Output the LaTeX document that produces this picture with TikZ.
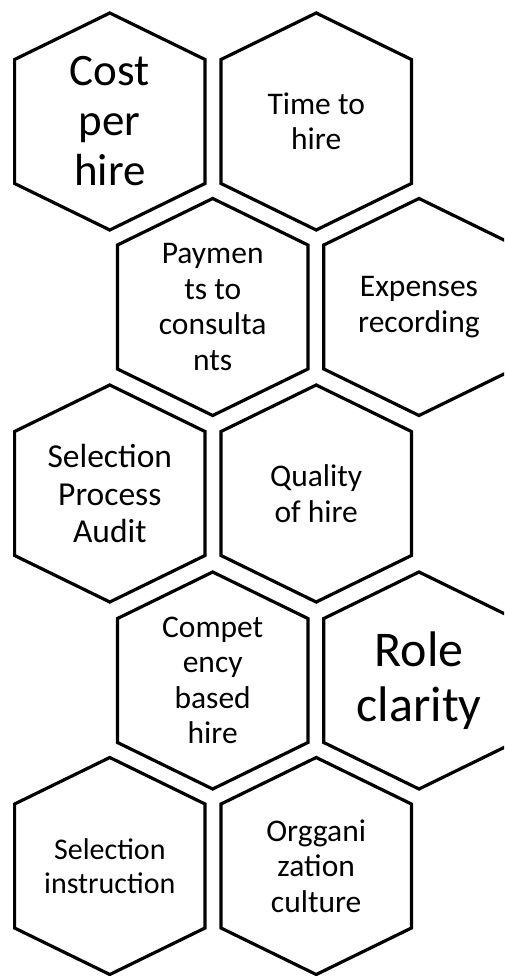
\documentclass[tikz,border=0pt]{standalone}
\usepackage{fontspec}
\setmainfont{Carlito}
\tikzset{
  hexline/.style={draw=black,line width=3.2pt,line join=miter},
  hexlabel/.style={align=center,inner sep=0pt,font=\fontsize{31.5}{35.4}\selectfont},
  biglabel/.style={font=\fontsize{45}{50}\selectfont},
  hugelabel/.style={font=\fontsize{50}{55}\selectfont},
  midlabel/.style={font=\fontsize{33.5}{37.5}\selectfont},
  smalllabel/.style={font=\fontsize{30}{34}\selectfont}
}
\newcommand{\hexcell}[5]{%
  \draw[hexline,shift={(#2,#3)}] (0,-108.5) -- (95.2,-62) -- (95.2,62) -- (0,108.5) -- (-95.2,62) -- (-95.2,-62) -- cycle;
  \node[hexlabel,#4] (#1) at (#2,#3) {#5};
}
\begin{document}
\begin{tikzpicture}[x=1pt,y=-1pt]
\useasboundingbox (0,0) rectangle (504,976);
\clip (0,0) rectangle (504,976);
\fill[white] (0,0) rectangle (504,976);
\hexcell{cost}{109.8}{121.5}{biglabel}{Cost\\per\\hire}
\hexcell{time}{316.2}{121.5}{}{Time to\\hire}
\hexcell{pay}{212.7}{307}{}{Paymen\\ts to\\consulta\\nts}
\hexcell{exp}{419}{307}{}{Expenses\\recording}
\hexcell{audit}{109.8}{493.5}{midlabel}{Selection\\Process\\Audit}
\hexcell{quality}{316.2}{493.5}{}{Quality\\of hire}
\hexcell{comp}{212.7}{680.5}{}{Compet\\ency\\based\\hire}
\hexcell{role}{419}{680.5}{hugelabel}{Role\\clarity}
\hexcell{instr}{109.8}{866}{smalllabel}{Selection\\instruction}
\hexcell{culture}{316.2}{866}{}{Orggani\\zation\\culture}
\end{tikzpicture}
\end{document}
